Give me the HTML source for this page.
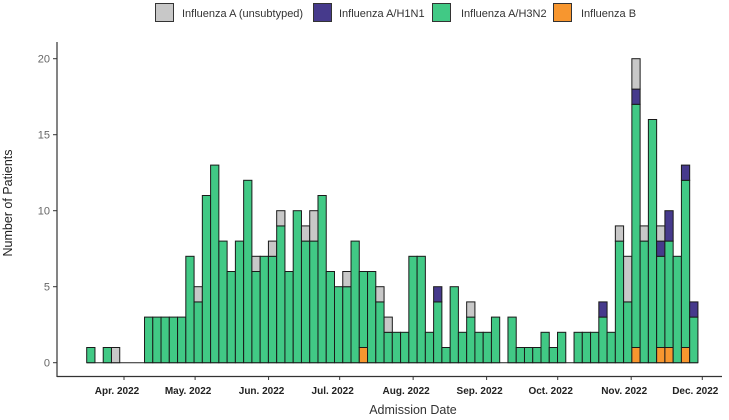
<!DOCTYPE html>
<html><head><meta charset="utf-8"><style>
html,body{margin:0;padding:0;background:#fff;}
svg{display:block;font-family:"Liberation Sans",sans-serif;}
</style></head><body>
<svg id="chart" width="729" height="420" viewBox="0 0 729 420">
  <g>
    <g><rect x="155.5" y="3.5" width="18" height="18" fill="#c8c8c8" stroke="#333"/><text x="182" y="17" font-size="11" fill="#333">Influenza A (unsubtyped)</text></g>
    <g><rect x="313.5" y="3.5" width="18" height="18" fill="#463a8c" stroke="#333"/><text x="339" y="17" font-size="11" fill="#333">Influenza A/H1N1</text></g>
    <g><rect x="432.5" y="3.5" width="18" height="18" fill="#41c985" stroke="#333"/><text x="461" y="17" font-size="11" fill="#333">Influenza A/H3N2</text></g>
    <g><rect x="553.5" y="3.5" width="18" height="18" fill="#f7962f" stroke="#333"/><text x="581" y="17" font-size="11" fill="#333">Influenza B</text></g>
  </g>
  <g id="bars"></g>
  <g id="axes"></g>
  <text x="12" y="203" font-size="12.5" fill="#222" text-anchor="middle" transform="rotate(-90 12 203)">Number of Patients</text>
  <text x="413" y="414" font-size="12.5" fill="#333" text-anchor="middle">Admission Date</text>
</svg>
<script>
const h3n2 = [1,0,1,0,0,0,0,3,3,3,3,3,7,4,11,13,8,6,8,12,6,7,7,9,6,10,8,8,11,6,5,5,8,5,6,4,2,2,2,7,7,2,4,1,5,2,3,2,2,3,0,3,1,1,1,2,1,2,0,2,2,2,3,2,8,4,16,8,16,6,7,7,11,3];
const unsub = [0,0,0,1,0,0,0,0,0,0,0,0,0,1,0,0,0,0,0,0,1,0,1,1,0,0,1,2,0,0,0,1,0,0,0,1,1,0,0,0,0,0,0,0,0,0,1,0,0,0,0,0,0,0,0,0,0,0,0,0,0,0,0,0,1,3,2,1,0,1,0,0,0,0];
const h1n1 = [0,0,0,0,0,0,0,0,0,0,0,0,0,0,0,0,0,0,0,0,0,0,0,0,0,0,0,0,0,0,0,0,0,0,0,0,0,0,0,0,0,0,1,0,0,0,0,0,0,0,0,0,0,0,0,0,0,0,0,0,0,0,1,0,0,0,1,0,0,1,2,0,1,1];
const fluB = [0,0,0,0,0,0,0,0,0,0,0,0,0,0,0,0,0,0,0,0,0,0,0,0,0,0,0,0,0,0,0,0,0,1,0,0,0,0,0,0,0,0,0,0,0,0,0,0,0,0,0,0,0,0,0,0,0,0,0,0,0,0,0,0,0,0,1,0,0,1,1,0,1,0];
const yTicks = [0,5,10,15,20];
const monthLabels = ["Apr. 2022","May. 2022","Jun. 2022","Jul. 2022","Aug. 2022","Sep. 2022","Oct. 2022","Nov. 2022","Dec. 2022"];
const monthDays = [0,30,61,91,122,153,183,214,244];

const NS="http://www.w3.org/2000/svg";
const y0=362.7, unit=15.2;
function yScale(v){return y0-v*unit;}
const bx0=86.7, bw=8.26;
function xBin(i){return bx0+bw*i;}
function xDay(d){return 124+d*2.37;}
function mk(tag,attrs,parent){const e=document.createElementNS(NS,tag);for(const k in attrs)e.setAttribute(k,attrs[k]);parent.appendChild(e);return e;}

const bars=document.getElementById('bars');
const series=[{d:fluB,c:"#f7962f",n:"b"},{d:h3n2,c:"#41c985",n:"h3n2"},{d:h1n1,c:"#463a8c",n:"h1n1"},{d:unsub,c:"#c8c8c8",n:"unsubtyped"}];
// baseline under zero bins
const bl=mk('line',{x1:xBin(0),x2:xBin(h3n2.length),y1:y0,y2:y0,stroke:'#222','stroke-width':1},bars);


for(let i=0;i<h3n2.length;i++){
  let cum=0;
  for(const s of series){
    const v=s.d[i]; if(!v) continue;
    const r=mk('rect',{x:xBin(i),y:yScale(cum+v),width:bw,height:v*unit,fill:s.c,stroke:'#1a1a1a','stroke-width':1},bars);
    
    
    cum+=v;
  }
}
const ax=document.getElementById('axes');
const ya=mk('line',{x1:57,x2:57,y1:42,y2:377,stroke:'#333','stroke-width':1.2},ax);


const xa=mk('line',{x1:57,x2:722,y1:376.5,y2:376.5,stroke:'#333','stroke-width':1.2},ax);


yTicks.forEach(t=>{
  const y=yScale(t);
  mk('line',{x1:53,x2:57,y1:y,y2:y,stroke:'#333'},ax);
  const tx=mk('text',{x:50,y:y+4,'font-size':11,fill:'#666','text-anchor':'end'},ax);
  tx.textContent=t;
  
  
});
monthLabels.forEach((m,i)=>{
  const x=xDay(monthDays[i]);
  mk('line',{x1:x,x2:x,y1:376.5,y2:380,stroke:'#333'},ax);
  const tx=mk('text',{x:x-7,y:394,'font-size':10,'font-weight':'bold',fill:'#222','text-anchor':'middle'},ax);
  tx.textContent=m;
  
  
});
</script>
</body></html>
